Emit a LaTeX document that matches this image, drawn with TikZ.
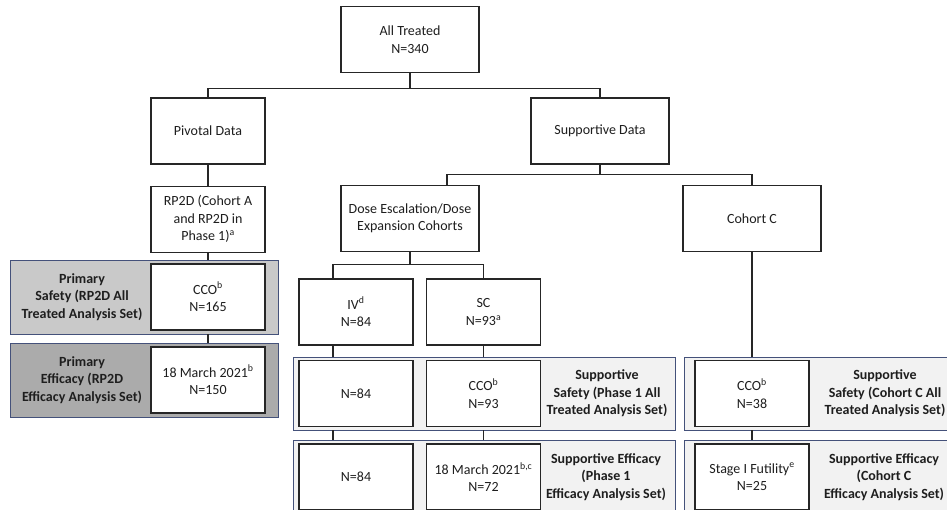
\documentclass[tikz,border=0pt]{standalone}
\usepackage{fontspec}
\setmainfont{Carlito}
\usetikzlibrary{positioning, calc}
\definecolor{boxline}{HTML}{262626}
\definecolor{bandline}{HTML}{44517A}
\definecolor{greyA}{HTML}{C9C9C9}
\definecolor{greyB}{HTML}{ABABAB}
\definecolor{greyC}{HTML}{F2F2F2}
\definecolor{txt}{HTML}{1E1E1E}

\begin{document}
\begin{tikzpicture}[
  x=1pt, y=-1pt,
  every node/.style={font=\fontsize{14}{17.5}\selectfont, text=txt},
  box/.style   = {draw=boxline, line width=1.2pt, fill=white, align=center, inner sep=2pt, minimum width=114pt, minimum height=66pt},
  wide/.style  = {box, minimum width=138pt},
  band/.style  = {draw=bandline, line width=0.8pt, fill=greyC, inner sep=0pt, minimum height=74pt},
  lbl/.style   = {align=center, font=\fontsize{14}{17.5}\selectfont\bfseries},
  link/.style  = {draw=boxline, line width=1.1pt},
]
  \useasboundingbox (0,0) rectangle (947,510);
  % Top of the tree.
  \node[wide] (all)   at (410,39.5)  {All Treated\\N=340};
  \node[box]  (pivot) at (208,131)   {Pivotal Data};
  \node[wide] (supp)  at (600,131)   {Supportive Data};
  \node[box, below=21pt of pivot] (rp2d) {RP2D (Cohort A\\and RP2D in\\Phase 1)\textsuperscript{a}};
  \node[wide] (dose)  at (410,218.5) {Dose Escalation/Dose\\Expansion Cohorts};
  \node[wide] (cohc)  at (752,218.5) {Cohort C};
  \node[box]  (iv)    at (356,312)   {IV\textsuperscript{d}\\N=84};
  \node[box]  (sc)    at (483.5,312) {SC\\N=93\textsuperscript{a}};
  % Analysis set bands.
  \node[band, fill=greyA, minimum width=268pt] (psafe)  at (144,297)   {};
  \node[band, fill=greyB, minimum width=268pt] (peff)   at (144,380)   {};
  \node[band, minimum width=382pt, minimum height=73pt] (ssafe1) at (484,393.5) {};
  \node[band, minimum width=268pt, minimum height=73pt] (ssafeC) at (818,393.5) {};
  \node[band, minimum width=382pt] (seff1) at (484,477) {};
  \node[band, minimum width=268pt] (seffC) at (818,477) {};
  % Boxes inside the bands.
  \node[box] (cco1) at (rp2d |- psafe)  {CCO\textsuperscript{b}\\N=165};
  \node[box] (mar1) at (rp2d |- peff)   {18 March 2021\textsuperscript{b}\\N=150};
  \node[box] (n84a) at (iv |- ssafe1)   {N=84};
  \node[box] (cco2) at (sc |- ssafe1)   {CCO\textsuperscript{b}\\N=93};
  \node[box] (cco3) at (cohc |- ssafeC) {CCO\textsuperscript{b}\\N=38};
  \node[box] (n84b) at (iv |- seff1)    {N=84};
  \node[box] (mar2) at (sc |- seff1)    {18 March 2021\textsuperscript{b,c}\\N=72};
  \node[box] (stg)  at (cohc |- seffC)  {Stage I Futility\textsuperscript{e}\\N=25};
  % Band captions.
  \node[lbl] at (82,297)    {Primary\\Safety (RP2D All\\Treated Analysis Set)};
  \node[lbl] at (82,380)    {Primary\\Efficacy (RP2D\\Efficacy Analysis Set)};
  \node[lbl] at (607,393.5) {Supportive\\Safety (Phase 1 All\\Treated Analysis Set)};
  \node[lbl] at (885,393.5) {Supportive\\Safety (Cohort C All\\Treated Analysis Set)};
  \node[lbl] at (606,477)   {Supportive Efficacy\\(Phase 1\\Efficacy Analysis Set)};
  \node[lbl] at (884,477)   {Supportive Efficacy\\(Cohort C\\Efficacy Analysis Set)};
  % Connectors.
  \coordinate (split1) at ($(all.south)+(0,15)$);
  \coordinate (split2) at ($(supp.south)+(0,10)$);
  \coordinate (split3) at ($(dose.south)+(0,12)$);
  \coordinate (dosetop) at ([xshift=37pt]dose.north);
  \coordinate (ivtop)   at ([xshift=-23pt]iv.north);
  \coordinate (ivfoot)  at ([xshift=-23pt]iv.south);
  \draw[link] (all.south) -- (split1);
  \draw[link] (pivot.north) |- (split1) -| (supp.north);
  \draw[link] (supp.south) -- (split2);
  \draw[link] (dosetop) |- (split2) -| (cohc.north);
  \draw[link] (dose.south) -- (split3);
  \draw[link] (ivtop) |- (split3) -| (sc.north);
  \draw[link] (pivot.south) -- (rp2d.north);
  \draw[link] (rp2d.south) -- (rp2d.south |- psafe.north);
  \draw[link] (psafe.south -| cco1) -- (peff.north -| cco1);
  \draw[link] (ivfoot) -- (ivfoot |- ssafe1.north);
  \draw[link] (sc.south) -- (sc.south |- ssafe1.north);
  \draw[link] (cohc.south) -- (cohc.south |- ssafeC.north);
  \foreach \a in {ivfoot, sc, cohc}
    \draw[link] (ssafe1.south -| \a) -- (seff1.north -| \a);
\end{tikzpicture}
\end{document}
